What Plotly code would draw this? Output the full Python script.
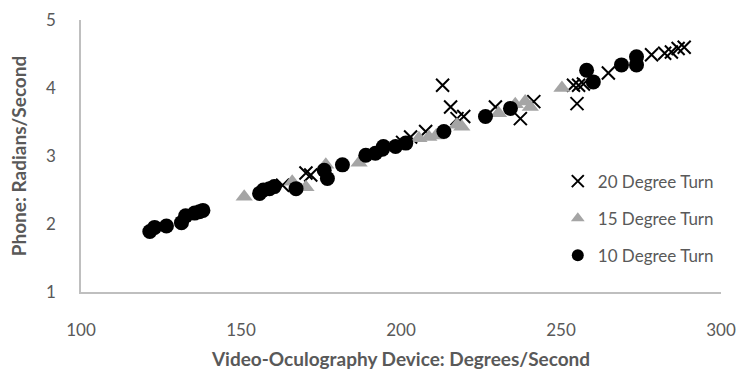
import plotly.graph_objects as go

deg20_x = [163, 170.3, 171.8, 200.5, 203, 207.7, 213, 215.5, 219.6, 217.5, 229.5, 237.3, 241.5, 253.9, 255.5, 257, 255, 264.8, 278.3, 282.4, 284.5, 286.6, 288.5]
deg20_y = [2.57, 2.75, 2.72, 3.2, 3.28, 3.36, 4.04, 3.72, 3.58, 3.55, 3.72, 3.55, 3.8, 4.04, 4.04, 4.06, 3.77, 4.22, 4.49, 4.51, 4.53, 4.58, 4.6]

deg15_x = [151, 166, 170.3, 176.5, 186.9, 205.6, 208.7, 211, 217.5, 219, 230.5, 235.7, 238.8, 240.4, 250.3]
deg15_y = [2.4, 2.62, 2.54, 2.87, 2.9, 3.26, 3.28, 3.3, 3.46, 3.43, 3.63, 3.76, 3.8, 3.72, 4.0]

deg10_x = [121.5, 123, 126.7, 131.4, 132.7, 135.5, 137, 138.1, 155.8, 157, 158.9, 160.4, 167.2, 176, 177, 181.7, 189, 192, 194.2, 194.5, 198.3, 201.5, 213.4, 226.4, 234.2, 258, 260.1, 268.9, 273.6, 273.6]
deg10_y = [1.89, 1.95, 1.97, 2.02, 2.12, 2.16, 2.18, 2.2, 2.45, 2.5, 2.52, 2.55, 2.52, 2.79, 2.67, 2.87, 3.01, 3.04, 3.1, 3.14, 3.14, 3.19, 3.36, 3.58, 3.7, 4.26, 4.09, 4.34, 4.46, 4.34]

fig = go.Figure()
fig.add_trace(go.Scatter(x=deg20_x, y=deg20_y, mode="markers", name="20 Degree Turn", legendgroup="a",
                         marker=dict(symbol="x-thin-open", size=13, color="black",
                                     line=dict(color="black", width=2))))
fig.add_trace(go.Scatter(x=deg15_x, y=deg15_y, mode="markers", name="15 Degree Turn", legendgroup="b",
                         marker=dict(symbol="triangle-up", size=15, color="#a5a5a5",
                                     line=dict(width=0))))
fig.add_trace(go.Scatter(x=deg10_x, y=deg10_y, mode="markers", name="10 Degree Turn", legendgroup="c",
                         marker=dict(symbol="circle", size=15, color="black",
                                     line=dict(width=0))))

font_fam = "Lato, Open Sans, sans-serif"
fig.update_layout(
    width=746, height=374,
    margin=dict(l=81, r=25, t=20, b=82),
    paper_bgcolor="white", plot_bgcolor="white",
    font=dict(family=font_fam, color="#595959", size=17),
    legend=dict(x=0.745, y=0.27, xanchor="left", yanchor="middle",
                font=dict(size=17, color="#595959"), tracegroupgap=12,
                itemsizing="constant", itemwidth=30, bgcolor="rgba(0,0,0,0)"),
    xaxis=dict(range=[100, 300], tickvals=[100, 150, 200, 250, 300], automargin=False,
               showgrid=False, zeroline=False, showline=True, linecolor="#bfbfbf", linewidth=1.5,
               ticks="", ticklabelstandoff=22,
               title=dict(text="<b>Video-Oculography Device: Degrees/Second</b>",
                          font=dict(size=19, color="#595959"), standoff=14)),
    yaxis=dict(range=[1, 5], tickvals=[1, 2, 3, 4, 5], automargin=False,
               showgrid=False, zeroline=False, showline=True, linecolor="#bfbfbf", linewidth=1.5,
               ticks="", ticklabelstandoff=20,
               title=dict(text="<b>Phone: Radians/Second</b>",
                          font=dict(size=19, color="#595959"), standoff=14)),
)

fig.write_html("out.html", config={"displayModeBar": False},
               post_script="document.body.style.margin='0';")
